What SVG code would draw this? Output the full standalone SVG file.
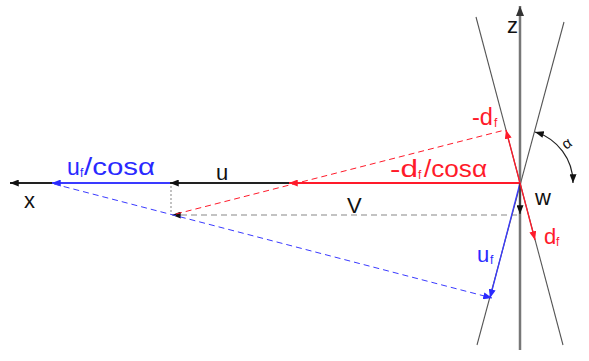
<svg xmlns="http://www.w3.org/2000/svg" width="589" height="361" viewBox="0 0 589 361">
<defs>
<style>
text{font-family:"Liberation Sans","DejaVu Sans",sans-serif;font-size:22px;}
.big{font-size:23px;}
.sub{font-size:12px;}
.k{fill:#111}
.r{fill:#ff1a2a}
.b{fill:#2a2aff}
.cone{stroke:#555;stroke-width:1.1;fill:none}
.ax{stroke:#222;stroke-width:2;fill:none}
.rs{stroke:#ff1a2a;fill:none}
.bs{stroke:#3a3aff;fill:none}
.gd{stroke:#888;stroke-width:1.2;stroke-dasharray:6 4;fill:none}
</style>
<marker id="ak" viewBox="0 0 10 8" refX="10" refY="4" markerWidth="9" markerHeight="7" markerUnits="userSpaceOnUse" orient="auto-start-reverse"><path d="M0,0L10,4L0,8z" fill="#111"/></marker>
<marker id="ar" viewBox="0 0 10 8" refX="10" refY="4" markerWidth="9" markerHeight="7" markerUnits="userSpaceOnUse" orient="auto"><path d="M0,0L10,4L0,8z" fill="#ff1a2a"/></marker>
<marker id="ab" viewBox="0 0 10 8" refX="10" refY="4" markerWidth="9" markerHeight="7" markerUnits="userSpaceOnUse" orient="auto"><path d="M0,0L10,4L0,8z" fill="#2a2aff"/></marker>
<marker id="ag" viewBox="0 0 10 8" refX="10" refY="4" markerWidth="10" markerHeight="8" markerUnits="userSpaceOnUse" orient="auto"><path d="M0,0L10,4L0,8z" fill="#333"/></marker>
</defs>
<rect width="589" height="361" fill="#fff"/>
<g id="connectors">
<line class="cone" x1="476" y1="17" x2="563" y2="345"/>
<line class="cone" x1="564" y1="22" x2="477" y2="345"/>
<line x1="520" y1="350" x2="520" y2="6" stroke="#777" stroke-width="2.5" marker-end="url(#ag)"/>
<line class="ax" x1="520" y1="183" x2="10" y2="183" marker-end="url(#ak)"/>
<line class="ax" x1="290" y1="183" x2="170" y2="183" marker-end="url(#ak)"/>
<line class="rs" stroke-width="2" x1="520" y1="183" x2="289" y2="183" marker-end="url(#ar)"/>
<line class="bs" stroke-width="2" x1="170" y1="183" x2="52" y2="183" marker-end="url(#ab)"/>
<line x1="171" y1="186" x2="171" y2="212" stroke="#999" stroke-width="1.2" stroke-dasharray="2 2"/>
<line class="gd" x1="517" y1="215" x2="172" y2="215" marker-end="url(#ak)"/>
<line class="rs" stroke-width="1" stroke-dasharray="6 4" x1="176" y1="214" x2="505" y2="130"/>
<line class="bs" stroke-width="1" stroke-dasharray="6 4" x1="54" y1="184" x2="492" y2="298" marker-end="url(#ab)"/>
<line class="rs" stroke-width="1.3" x1="520" y1="183" x2="506" y2="130" marker-end="url(#ar)"/>
<line class="bs" stroke-width="1.3" x1="520" y1="183" x2="490" y2="298" marker-end="url(#ab)"/>
<line x1="520" y1="183" x2="520" y2="214" stroke="#222" stroke-width="1.2" marker-end="url(#ak)"/>
<line class="rs" stroke-width="1.3" x1="520" y1="183" x2="535" y2="240" marker-end="url(#ar)"/>
<path d="M535,132 A53,53 0 0 1 573,183" fill="none" stroke="#222" stroke-width="1.2" marker-start="url(#ak)" marker-end="url(#ak)"/>
</g>
<g id="labels">
<text class="k" x="507" y="33">z</text>
<text class="k" x="24" y="208">x</text>
<text class="k" x="216" y="180">u</text>
<text class="k" x="347" y="213">V</text>
<text class="k" x="535" y="205">w</text>
<text class="r big" x="472" y="125" textLength="21" lengthAdjust="spacingAndGlyphs">-d</text>
<text class="r sub" x="494" y="127">f</text>
<text class="r big" x="390" y="177" textLength="28" lengthAdjust="spacingAndGlyphs">-d</text>
<text class="r sub" x="418" y="179">f</text>
<text class="r big" x="424" y="177" textLength="63" lengthAdjust="spacingAndGlyphs">/cosα</text>
<text class="r" x="544" y="244">d</text>
<text class="r sub" x="556" y="246">f</text>
<text class="b big" x="67" y="175">u</text>
<text class="b sub" x="80" y="177">f</text>
<text class="b big" x="84" y="175" textLength="71" lengthAdjust="spacingAndGlyphs">/cosα</text>
<text class="b" x="477" y="262">u</text>
<text class="b sub" x="490" y="264">f</text>
<text class="k" x="0" y="0" transform="translate(566,150) rotate(-35)" style="font-size:15px">α</text>
</g>
</svg>
